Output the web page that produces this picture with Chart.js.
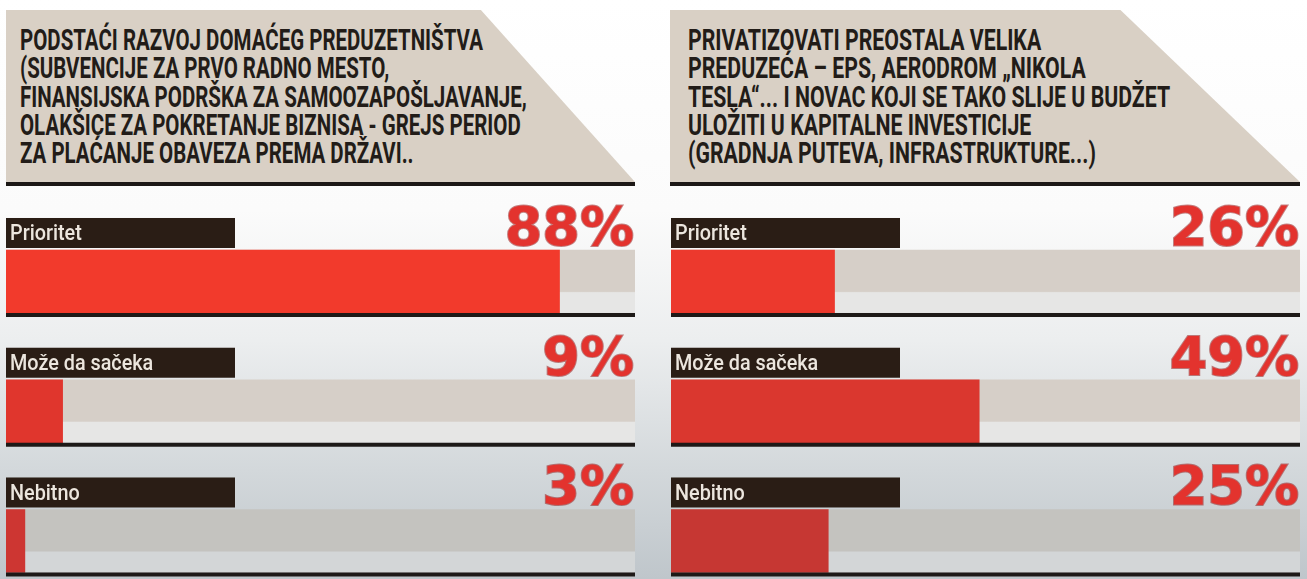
<!DOCTYPE html>
<html>
<head>
<meta charset="utf-8">
<script src="https://cdn.jsdelivr.net/npm/chart.js@4.4.1/dist/chart.umd.min.js"></script>
<style>
  html, body { margin: 0; padding: 0; }
  body {
    width: 1307px; height: 579px; overflow: hidden; position: relative;
    background: linear-gradient(to bottom, #ffffff 0px, #fbfbfb 210px, #eceeef 340px, #d3d8db 470px, #bfc6cb 579px);
    font-family: Roboto, "Noto Sans", sans-serif;
  }
  .head {
    position: absolute; top: 10px; height: 172px;
    background: #d9d0c5;
  }
  .head .txt {
    position: absolute; top: 16px;
    font-weight: 700; font-size: 29px; line-height: 28.3px;
    color: #221c18; white-space: nowrap; transform-origin: 0 0;
  }
  .head .txt span { display: inline-block; }
  .rule { position: absolute; top: 182px; height: 4px; background: #1c1816; }
  canvas { display: block; }
  .box { position: absolute; top: 186px; height: 393px; }
</style>
</head>
<body>
<div class="head" id="headL" style="left:6px;width:629px;clip-path:polygon(0 0,75.5% 0,100% 100%,0 100%);">
  <div class="txt" id="txtL" style="left:14px;"></div>
</div>
<div class="rule" style="left:6px;width:629px;"></div>
<div class="head" id="headR" style="left:670px;width:630px;clip-path:polygon(0 0,71.5% 0,100% 100%,0 100%);">
  <div class="txt" id="txtR" style="left:18px;"></div>
</div>
<div class="rule" style="left:670px;width:630px;"></div>

<div class="box" style="left:6px;width:629px;"><canvas id="chartL" width="629" height="393"></canvas></div>
<div class="box" style="left:671px;width:629px;"><canvas id="chartR" width="629" height="393"></canvas></div>

<script>
const leftTitle = [
  "PODSTAĆI RAZVOJ DOMAĆEG PREDUZETNIŠTVA",
  "(SUBVENCIJE ZA PRVO RADNO MESTO,",
  "FINANSIJSKA PODRŠKA ZA SAMOOZAPOŠLJAVANJE,",
  "OLAKŠICE ZA POKRETANJE BIZNISA - GREJS PERIOD",
  "ZA PLAĆANJE OBAVEZA PREMA DRŽAVI.."
];
const rightTitle = [
  "PRIVATIZOVATI PREOSTALA VELIKA",
  "PREDUZEĆA – EPS, AERODROM „NIKOLA",
  "TESLA“... I NOVAC KOJI SE TAKO SLIJE U BUDŽET",
  "ULOŽITI U KAPITALNE INVESTICIJE",
  "(GRADNJA PUTEVA, INFRASTRUKTURE...)"
];
const categories = ["Prioritet", "Može da sačeka", "Nebitno"];
const leftValues = [88, 9, 3];
const rightValues = [26, 49, 25];
const trackValues = [100, 100, 100];

// header text, squeezed to a condensed look
function fillTitle(id, lines, targetWidth) {
  const el = document.getElementById(id);
  el.innerHTML = lines.map(l => "<span>" + l + "</span>").join("<br>");
  let widest = 0;
  el.querySelectorAll("span").forEach(s => { widest = Math.max(widest, s.offsetWidth); });
  el.style.transform = "scaleX(" + (targetWidth / widest) + ")";
}
fillTitle("txtL", leftTitle, 507);
fillTitle("txtR", rightTitle, 482);

const redL = ["#f23a2c", "#e0362d", "#cd3632"];
const redR = ["#ec392d", "#da372f", "#c63733"];

function trackFill(ctx) {
  const chart = ctx.chart;
  const y = chart.scales.y;
  const row = ctx.dataIndex;
  const top = row === 2 ? "#c4c3bf" : "#d6cfc8";
  const bot = row === 2 ? "#d3d6d7" : "#e6e6e5";
  if (!y || row === undefined) return top;
  const c = y.getPixelForValue(row);
  if (!isFinite(c)) return top;
  const g = chart.ctx.createLinearGradient(0, c - 31, 0, c + 31);
  g.addColorStop(0, top);
  g.addColorStop(0.66, top);
  g.addColorStop(0.68, bot);
  g.addColorStop(1, bot);
  return g;
}

const rowDecor = {
  id: "rowDecor",
  afterDatasetsDraw(chart, args, opts) {
    const ctx = chart.ctx;
    const y = chart.scales.y;
    const area = chart.chartArea;
    const half = 31.5;
    opts.values.forEach((v, i) => {
      const c = y.getPixelForValue(i);
      const barTop = c - half;
      const barBot = c + half;
      ctx.save();
      // dark rule under the bar
      ctx.fillStyle = "#1d1917";
      ctx.fillRect(area.left, barBot, area.right - area.left, 4);
      // label box
      ctx.fillStyle = "#2a1d15";
      ctx.fillRect(area.left, barTop - 32, 229, 30);
      ctx.fillStyle = "#ece6de";
      ctx.font = "500 22px Roboto";
      ctx.textBaseline = "middle";
      ctx.translate(area.left + 4, barTop - 16);
      ctx.scale(0.9, 1);
      ctx.fillText(categories[i], 0, 1);
      ctx.restore();
      // big percentage
      ctx.save();
      ctx.font = "bold 54px 'DejaVu Sans'";
      ctx.textAlign = "right";
      ctx.textBaseline = "alphabetic";
      ctx.lineWidth = 2;
      ctx.strokeStyle = "rgba(150,25,25,0.55)";
      ctx.strokeText(v + "%", area.right - 1, barTop - 5);
      ctx.fillStyle = "#e3332e";
      ctx.fillText(v + "%", area.right - 1, barTop - 5);
      ctx.restore();
    });
  }
};

function makeChart(id, values, reds) {
  return new Chart(document.getElementById(id), {
    type: "bar",
    data: {
      datasets: [
        {
          label: "value",
          data: values.map((v, i) => ({ x: v, y: i })),
          backgroundColor: reds,
          order: 0
        },
        {
          label: "track",
          data: trackValues.map((v, i) => ({ x: v, y: i })),
          backgroundColor: ctx => trackFill(ctx),
          order: 1
        }
      ]
    },
    options: {
      indexAxis: "y",
      responsive: false,
      animation: false,
      layout: { padding: 0 },
      datasets: { bar: { barThickness: 63, grouped: false, borderWidth: 0 } },
      scales: {
        x: { type: "linear", min: 0, max: 100, display: false, offset: false },
        y: { type: "linear", min: -0.736, max: 2.293, reverse: true, display: false, offset: false }
      },
      plugins: {
        legend: { display: false },
        tooltip: { enabled: false },
        rowDecor: { values: values }
      }
    },
    plugins: [rowDecor]
  });
}

makeChart("chartL", leftValues, redL);
makeChart("chartR", rightValues, redR);
</script>
</body>
</html>
